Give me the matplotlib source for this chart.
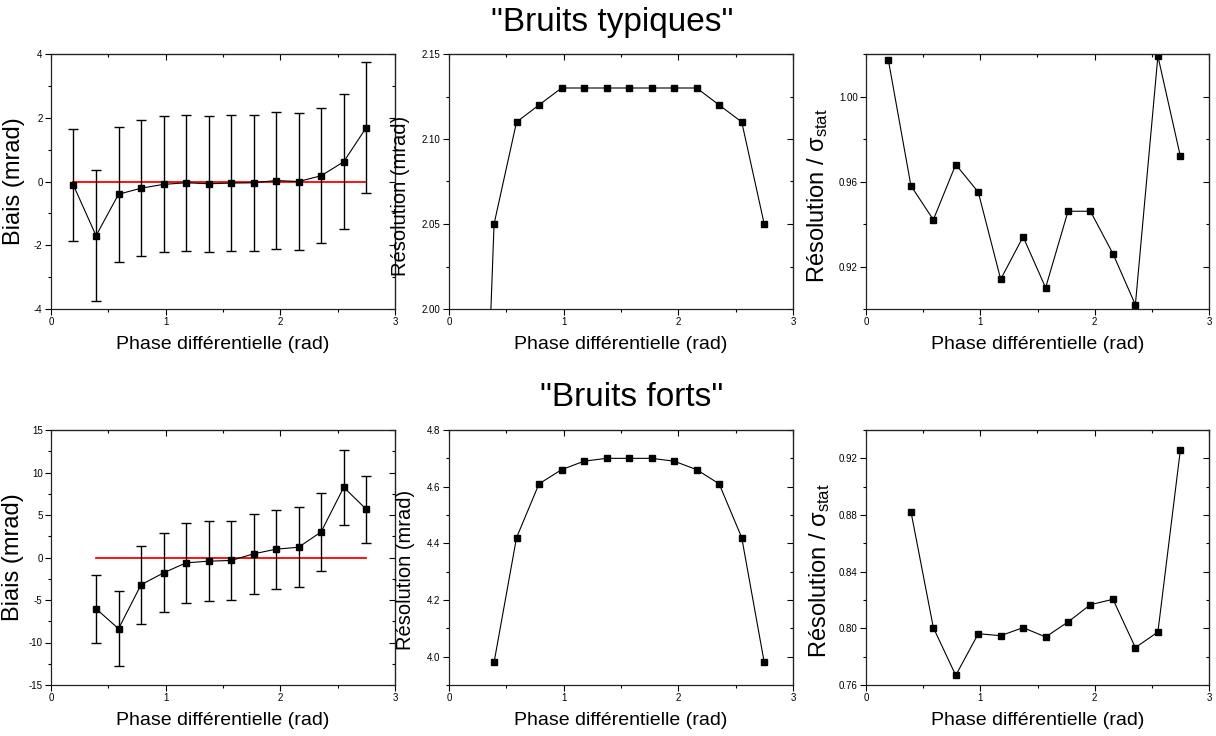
import numpy as np
import matplotlib
matplotlib.use('Agg')
import matplotlib.pyplot as plt
from matplotlib.ticker import MultipleLocator, FormatStrFormatter

plt.rcParams['font.family'] = ['Liberation Sans', 'DejaVu Sans']
plt.rcParams['axes.unicode_minus'] = False
plt.rcParams['mathtext.fontset'] = 'custom'
plt.rcParams['mathtext.rm'] = 'Liberation Sans'
plt.rcParams['mathtext.it'] = 'Liberation Sans:italic'

# phase points (k * pi/16)
phase_top = [0.196, 0.393, 0.589, 0.785, 0.982, 1.178, 1.374, 1.571,
             1.767, 1.963, 2.160, 2.356, 2.553, 2.749]
phase_bot = phase_top[1:]

# "Bruits typiques"
biais_top = [-0.12, -1.70, -0.40, -0.21, -0.09, -0.04, -0.07, -0.05,
             -0.04, 0.03, 0.00, 0.18, 0.62, 1.69]
biais_top_err = [1.76, 2.05, 2.11, 2.13, 2.13, 2.13, 2.13, 2.13,
                 2.13, 2.14, 2.14, 2.12, 2.12, 2.05]
resol_top = [1.69, 2.05, 2.11, 2.12, 2.13, 2.13, 2.13, 2.13,
             2.13, 2.13, 2.13, 2.12, 2.11, 2.05]
ratio_top = [1.017, 0.958, 0.942, 0.968, 0.955, 0.914, 0.934, 0.910,
             0.946, 0.946, 0.926, 0.902, 1.019, 0.972]

# "Bruits forts"
biais_bot = [-6.03, -8.38, -3.21, -1.80, -0.63, -0.43, -0.35, 0.43,
             0.98, 1.21, 3.02, 8.26, 5.68]
biais_bot_err = [4.0, 4.43, 4.62, 4.66, 4.68, 4.70, 4.70, 4.70,
                 4.66, 4.70, 4.60, 4.40, 3.96]
resol_bot = [3.98, 4.42, 4.61, 4.66, 4.69, 4.70, 4.70, 4.70,
             4.69, 4.66, 4.61, 4.42, 3.98]
ratio_bot = [0.8824, 0.8005, 0.7668, 0.7962, 0.7948, 0.8005, 0.7939,
             0.8045, 0.8167, 0.8205, 0.7864, 0.7974, 0.9256]

fig = plt.figure(figsize=(12.16, 7.36), dpi=100)

W, H = 1216, 736
def add_ax(left, top, width=344, height=255):
    return fig.add_axes([left / W, 1 - (top + height) / H, width / W, height / H])

def style(ax, ymin, ymax, ymaj, ymin_step, fmt, ylabel, ysize=13.5,
          ylab_x=None, ylab_y=0.5):
    ax.set_xlim(0, 3)
    ax.set_ylim(ymin, ymax)
    ax.xaxis.set_major_locator(MultipleLocator(1))
    ax.xaxis.set_minor_locator(MultipleLocator(0.5))
    ax.yaxis.set_major_locator(MultipleLocator(ymaj))
    ax.yaxis.set_minor_locator(MultipleLocator(ymin_step))
    ax.yaxis.set_major_formatter(FormatStrFormatter(fmt))
    ax.tick_params(which='both', direction='out', labelsize=7, width=0.8,
                   top=False, right=False, pad=2)
    ax.tick_params(which='major', length=4)
    ax.tick_params(which='minor', length=2.5)
    for s in ax.spines.values():
        s.set_linewidth(0.9)
        s.set_color('#222222')
    # inward ticks on top and right
    sec_x = ax.secondary_xaxis('top')
    sec_x.xaxis.set_major_locator(MultipleLocator(1))
    sec_x.xaxis.set_minor_locator(MultipleLocator(0.5))
    sec_x.tick_params(which='both', direction='in', labeltop=False, width=0.8)
    sec_x.tick_params(which='major', length=4)
    sec_x.tick_params(which='minor', length=2.5)
    sec_y = ax.secondary_yaxis('right')
    sec_y.yaxis.set_major_locator(MultipleLocator(ymaj))
    sec_y.yaxis.set_minor_locator(MultipleLocator(ymin_step))
    sec_y.tick_params(which='both', direction='in', labelright=False, width=0.8)
    sec_y.tick_params(which='major', length=4)
    sec_y.tick_params(which='minor', length=2.5)
    ax.set_xlabel('Phase différentielle (rad)', fontsize=14, labelpad=6)
    ax.set_ylabel(ylabel, fontsize=ysize, labelpad=4)
    if ylab_x is not None:
        ax.yaxis.set_label_coords(ylab_x, ylab_y)

line_kw = dict(color='black', lw=0.8, marker='s', ms=5, mfc='black', mec='black')
ratio_label = 'Résolution / σ$_{\\mathrm{stat}}$'

# top row
ax1 = add_ax(51, 54)
ax1.plot([phase_top[0], phase_top[-1]], [0, 0], color='red', lw=1.3)
ax1.errorbar(phase_top, biais_top, yerr=biais_top_err, ecolor='black', elinewidth=1.0,
             capsize=3.5, capthick=1.0, **line_kw)
style(ax1, -4, 4, 2, 1, '%d', 'Biais (mrad)', ysize=17, ylab_x=-0.076)

ax2 = add_ax(449, 54)
ax2.plot(phase_top, resol_top, **line_kw)
style(ax2, 2.00, 2.15, 0.05, 0.025, '%.2f', 'Résolution (mrad)', ysize=14.5,
      ylab_x=-0.112, ylab_y=0.445)

ax3 = add_ax(866, 54, width=343)
ax3.plot(phase_top, ratio_top, **line_kw)
style(ax3, 0.90, 1.02, 0.04, 0.02, '%.2f', ratio_label, ysize=17,
      ylab_x=-0.105, ylab_y=0.445)

# bottom row
ax4 = add_ax(51, 430)
ax4.plot([phase_bot[0], phase_bot[-1]], [0, 0], color='red', lw=1.3)
ax4.errorbar(phase_bot, biais_bot, yerr=biais_bot_err, ecolor='black', elinewidth=1.0,
             capsize=3.5, capthick=1.0, **line_kw)
style(ax4, -15, 15, 5, 2.5, '%d', 'Biais (mrad)', ysize=17, ylab_x=-0.078)

ax5 = add_ax(449, 430)
ax5.plot(phase_bot, resol_bot, **line_kw)
style(ax5, 3.9, 4.8, 0.2, 0.1, '%.1f', 'Résolution (mrad)', ysize=14.5,
      ylab_x=-0.1, ylab_y=0.45)

ax6 = add_ax(866, 430, width=343)
ax6.plot(phase_bot, ratio_bot, **line_kw)
style(ax6, 0.76, 0.94, 0.04, 0.02, '%.2f', ratio_label, ysize=17,
      ylab_x=-0.1, ylab_y=0.45)

fig.text(612 / W, 1 - 22 / H, '"Bruits typiques"', fontsize=24, ha='center', va='center')
fig.text(632 / W, 1 - 398 / H, '"Bruits forts"', fontsize=24, ha='center', va='center')

fig.savefig('out.png', dpi=100)
